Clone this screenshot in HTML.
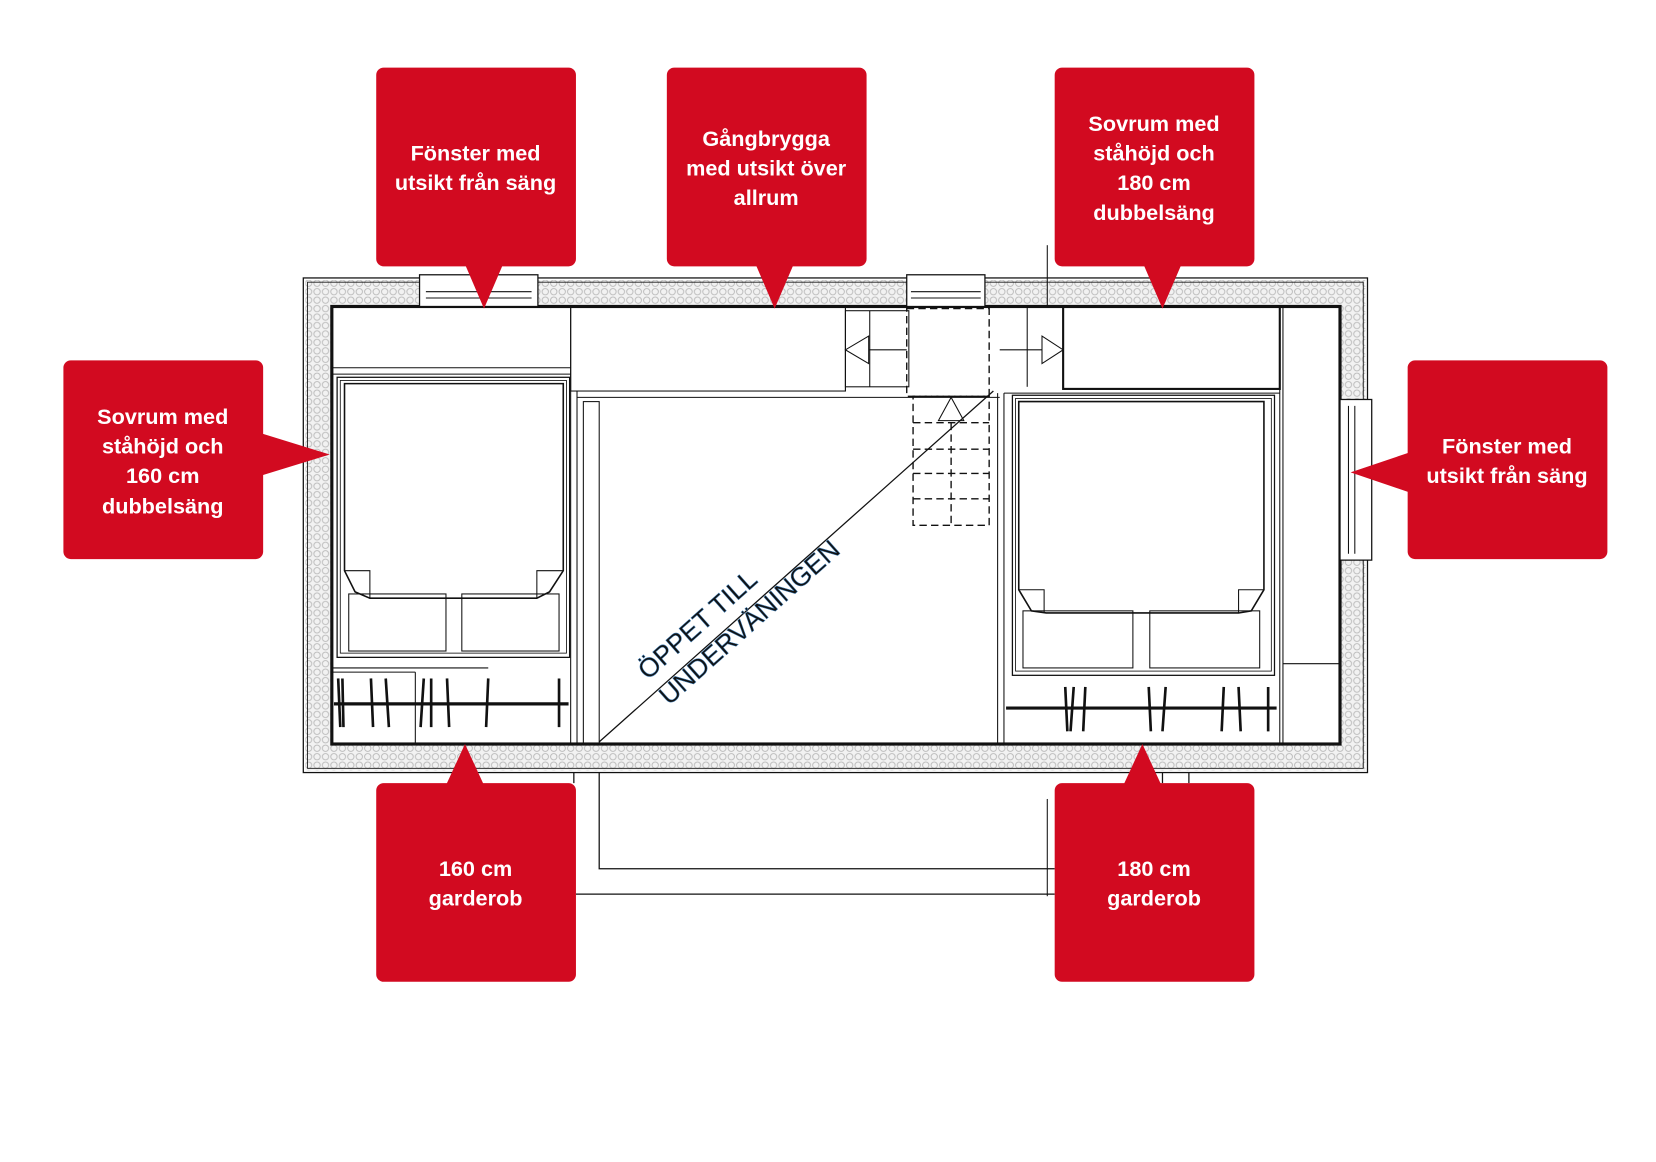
<!DOCTYPE html>
<html><head><meta charset="utf-8"><style>
html,body{margin:0;padding:0;background:#fff;width:1656px;height:1162px;overflow:hidden}
svg{display:block}
.t{font-family:"Liberation Sans",Arial,sans-serif;font-weight:bold;font-size:20.5px;fill:#fff;text-anchor:middle}
</style></head><body>
<svg width="1656" height="1162" viewBox="0 0 1567 1099.5" preserveAspectRatio="none" xmlns="http://www.w3.org/2000/svg">
<defs>
<pattern id="ins" width="8" height="8" patternUnits="userSpaceOnUse">
<rect width="8" height="8" fill="#f2f2f2"/>
<circle cx="4" cy="4" r="3" fill="none" stroke="#bbb" stroke-width="0.9"/>
</pattern>
</defs>
<g fill="none" stroke="#111">
<rect x="289" y="265" width="1003" height="464" fill="url(#ins)" stroke="none"/>
<rect x="287" y="263" width="1007" height="468" stroke-width="1.2"/>
<rect x="291" y="267" width="999" height="460" stroke-width="0.8"/>
<rect x="314" y="290" width="954" height="414" fill="#fff" stroke-width="3"/>
<rect x="397" y="260" width="112" height="30" fill="#fff" stroke-width="1.2"/>
<line x1="403" y1="276" x2="503" y2="276"/><line x1="403" y1="282" x2="503" y2="282"/>
<rect x="858" y="260" width="74" height="30" fill="#fff" stroke-width="1.2"/>
<line x1="862" y1="276" x2="928" y2="276"/><line x1="862" y1="282" x2="928" y2="282"/>
<rect x="1268" y="378" width="30" height="152" fill="#fff" stroke-width="1.2"/>
<line x1="1276" y1="384" x2="1276" y2="524"/><line x1="1282" y1="384" x2="1282" y2="524"/>
<line x1="314" y1="348" x2="540" y2="348"/><line x1="314" y1="354" x2="540" y2="354"/>
<rect x="319" y="357" width="220" height="265" stroke-width="1.2"/>
<rect x="322" y="360" width="214" height="258" stroke-width="0.8"/>
<path d="M326 363 H533 V540 L520 560 L508 566 H350 L336 560 L326 540 Z" stroke-width="1.5"/>
<path d="M326 540 H350 V566 M533 540 H508 V566"/>
<rect x="330" y="562" width="92" height="54"/><rect x="437" y="562" width="92" height="54"/>
<line x1="314" y1="632" x2="462" y2="632"/>
<line x1="314" y1="636" x2="393" y2="636"/><line x1="393" y1="636" x2="393" y2="704"/>
<line x1="316" y1="666" x2="538" y2="666" stroke-width="3"/>
<path d="M320 642 L322 688 M324 642 L325 688 M351 642 L353 688 M365 642 L368 688 M401 642 L398 688 M408 642 L408 688 M423 642 L425 688 M462 642 L460 688 M529 642 L529 688" stroke-width="2.5"/>
<line x1="540" y1="290" x2="540" y2="704"/>
<line x1="546" y1="370" x2="546" y2="704"/>
<rect x="540" y="290" width="260" height="80"/>
<line x1="546" y1="376" x2="946" y2="376"/>
<rect x="552" y="380" width="15" height="324"/>
<line x1="800" y1="290" x2="800" y2="370"/>
<rect x="800" y="294" width="60" height="72"/><line x1="823" y1="294" x2="823" y2="366"/>
<path d="M822 318 L800 331 L822 344 Z"/><line x1="822" y1="331" x2="858" y2="331"/>
<g stroke-dasharray="7 4" stroke-width="1.3">
<rect x="858" y="292" width="78" height="83"/>
<rect x="864" y="375" width="72" height="122"/>
<line x1="864" y1="400" x2="936" y2="400"/><line x1="864" y1="425" x2="936" y2="425"/>
<line x1="864" y1="448" x2="936" y2="448"/><line x1="864" y1="472" x2="936" y2="472"/>
<line x1="900" y1="400" x2="900" y2="497"/>
</g>
<path d="M888 398 L900 376 L912 398 Z"/>
<line x1="946" y1="331" x2="986" y2="331"/><path d="M986 318 L1006 331 L986 344 Z"/>
<line x1="972" y1="290" x2="972" y2="366"/>
<line x1="567" y1="702" x2="940" y2="370" stroke-width="1.2"/>
<text x="0" y="0" transform="translate(613,644) rotate(-41.7)" font-family="Liberation Sans,Arial,sans-serif" font-size="25" fill="#111" stroke="#3a78b0" stroke-width="0.5">ÖPPET TILL</text>
<text x="0" y="0" transform="translate(633,668) rotate(-41.7)" font-family="Liberation Sans,Arial,sans-serif" font-size="25" fill="#111" stroke="#3a78b0" stroke-width="0.5">UNDERVÄNINGEN</text>
<line x1="944" y1="372" x2="944" y2="704"/><line x1="950" y1="372" x2="950" y2="704"/>
<rect x="1006" y="290" width="205" height="78" stroke-width="2"/>
<line x1="1211" y1="290" x2="1211" y2="704"/><line x1="1214" y1="290" x2="1214" y2="704"/>
<line x1="1214" y1="628" x2="1268" y2="628"/>
<line x1="950" y1="372" x2="1211" y2="372"/>
<rect x="958" y="374" width="248" height="265" stroke-width="1.2"/>
<rect x="961" y="377" width="242" height="258" stroke-width="0.8"/>
<path d="M964 380 H1196 V558 L1184 578 L1172 580 H990 L976 578 L964 558 Z" stroke-width="1.5"/>
<path d="M964 558 H988 V580 M1196 558 H1172 V580"/>
<rect x="968" y="578" width="104" height="54"/><rect x="1088" y="578" width="104" height="54"/>
<line x1="952" y1="670" x2="1208" y2="670" stroke-width="3"/>
<path d="M1008 650 L1010 692 M1016 650 L1013 692 M1027 650 L1025 692 M1087 650 L1089 692 M1103 650 L1100 692 M1158 650 L1156 692 M1172 650 L1174 692 M1200 650 L1200 692" stroke-width="2.5"/>
<line x1="991" y1="232" x2="991" y2="290" stroke-width="1"/>
<path d="M567 731 V822 H998 M545 846 H998 M543 731 V741 M1100 731 V741 M1125 731 V741" stroke-width="1.2"/>
<line x1="991" y1="756" x2="991" y2="848" stroke-width="1"/>
</g>
<g fill="#d20a20">
<rect x="356" y="64" width="189" height="188" rx="7"/><path d="M440 250 L476 250 L458 292 Z"/>
<rect x="631" y="64" width="189" height="188" rx="7"/><path d="M715 250 L751 250 L733 292 Z"/>
<rect x="998" y="64" width="189" height="188" rx="7"/><path d="M1082 250 L1118 250 L1100 292 Z"/>
<rect x="60" y="341" width="189" height="188" rx="7"/><path d="M247 410 L247 450 L312 430 Z"/>
<rect x="1332" y="341" width="189" height="188" rx="7"/><path d="M1334 428 L1334 466 L1278 447 Z"/>
<rect x="356" y="741" width="189" height="188" rx="7"/><path d="M422 743 L458 743 L440 704 Z"/>
<rect x="998" y="741" width="189" height="188" rx="7"/><path d="M1063 743 L1099 743 L1081 704 Z"/>
</g>
<text class="t"><tspan x="450" y="152">Fönster med</tspan><tspan x="450" y="180">utsikt från säng</tspan></text>
<text class="t"><tspan x="725" y="138">Gångbrygga</tspan><tspan x="725" y="166">med utsikt över</tspan><tspan x="725" y="194">allrum</tspan></text>
<text class="t"><tspan x="1092" y="124">Sovrum med</tspan><tspan x="1092" y="152">ståhöjd och</tspan><tspan x="1092" y="180">180 cm</tspan><tspan x="1092" y="208">dubbelsäng</tspan></text>
<text class="t"><tspan x="154" y="401">Sovrum med</tspan><tspan x="154" y="429">ståhöjd och</tspan><tspan x="154" y="457">160 cm</tspan><tspan x="154" y="486">dubbelsäng</tspan></text>
<text class="t"><tspan x="1426" y="429">Fönster med</tspan><tspan x="1426" y="457">utsikt från säng</tspan></text>
<text class="t"><tspan x="450" y="829">160 cm</tspan><tspan x="450" y="857">garderob</tspan></text>
<text class="t"><tspan x="1092" y="829">180 cm</tspan><tspan x="1092" y="857">garderob</tspan></text>
</svg>
</body></html>
